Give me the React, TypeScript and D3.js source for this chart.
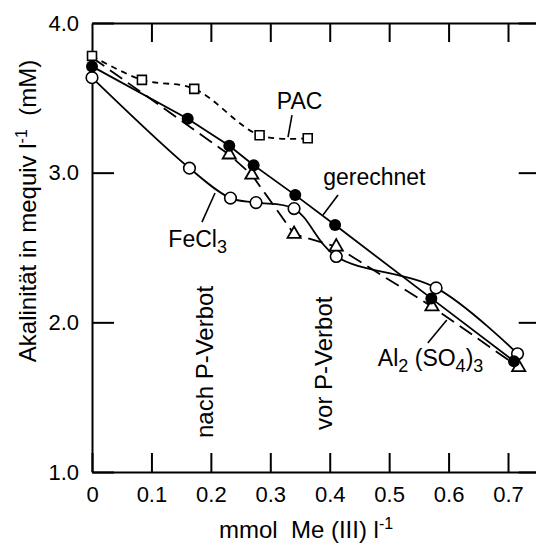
import React, { useEffect, useRef } from "react"
import * as d3 from "d3"

// mmol Me(III) per litre  /  alkalinity in mequiv per litre
const pacX = [0, 0.084, 0.172, 0.282, 0.363]
const pacY = [3.78, 3.62, 3.56, 3.25, 3.23]

const gerX = [0, 0.161, 0.231, 0.272, 0.342, 0.409, 0.571, 0.71]
const gerY = [3.71, 3.36, 3.18, 3.05, 2.85, 2.65, 2.16, 1.74]

const feX = [0, 0.164, 0.233, 0.276, 0.34, 0.411, 0.579, 0.716]
const feY = [3.635, 3.03, 2.83, 2.8, 2.76, 2.44, 2.23, 1.79]

const alX = [0, 0.231, 0.269, 0.34, 0.411, 0.572, 0.718]
const alY = [3.77, 3.12, 2.985, 2.59, 2.505, 2.105, 1.7]

const xTicks = [0, 0.1, 0.2, 0.3, 0.4, 0.5, 0.6, 0.7]
const yTicks = [1, 2, 3, 4]

const font = "'Liberation Sans', Arial, Helvetica, sans-serif"

const pts = (xs: number[], ys: number[]) => xs.map((v, i) => [v, ys[i]] as [number, number])

const App = () => {
  const ref = useRef<SVGSVGElement>(null)

  useEffect(() => {
    drawChart()
  }, [])

  const drawChart = () => {
    const svg = d3.select(ref.current)
    svg.selectAll("*").remove()

    const x = d3.scaleLinear().domain([0, 0.755]).range([92, 540.7])
    const y = d3.scaleLinear().domain([1, 4]).range([472, 23])

    const styleAxis = (g: any) => {
      g.selectAll("path, line").attr("stroke", "#000").attr("stroke-width", 2)
      g.selectAll("text").attr("font-size", 22).attr("font-family", font).attr("fill", "#000")
    }

    svg.append("g")
      .attr("transform", `translate(0,${y(1)})`)
      .call(d3.axisBottom(x).tickValues(xTicks).tickSize(-19).tickSizeOuter(0).tickPadding(14)
        .tickFormat((d: any) => (d === 0 ? "0" : d3.format(".1f")(d))))
      .call(styleAxis)
    svg.append("g")
      .attr("transform", `translate(0,${y(4)})`)
      .call(d3.axisTop(x).tickValues(xTicks.slice(1)).tickSize(-19).tickSizeOuter(0).tickFormat(() => ""))
      .call(styleAxis)
    svg.append("g")
      .attr("transform", `translate(${x(0)},0)`)
      .call(d3.axisLeft(y).tickValues(yTicks).tickSize(-22).tickSizeOuter(0).tickPadding(13)
        .tickFormat(d3.format(".1f") as any))
      .call(styleAxis)
    svg.append("g")
      .attr("transform", `translate(${x.range()[1]},0)`)
      .call(d3.axisRight(y).tickValues(yTicks).tickSize(-22).tickSizeOuter(0).tickFormat(() => ""))
      .call(styleAxis)

    const straight = d3.line().x(d => x(d[0])).y(d => y(d[1]))
    const curvy = d3.line().x(d => x(d[0])).y(d => y(d[1])).curve(d3.curveCatmullRom.alpha(0.5))

    const lines = [
      { p: pts(alX, alY), gen: straight, dash: "15,7" },
      { p: pts(pacX, pacY), gen: curvy, dash: "6,5" },
      { p: pts(feX, feY), gen: curvy, dash: null },
      { p: pts(gerX, gerY), gen: straight, dash: null },
    ]
    lines.forEach(l => {
      svg.append("path")
        .attr("d", l.gen(l.p))
        .attr("fill", "none")
        .attr("stroke", "#000")
        .attr("stroke-width", 1.8)
        .attr("stroke-dasharray", l.dash)
    })

    // first Al2(SO4)3 value sits under the other markers at x = 0
    svg.append("g").selectAll("path")
      .data(pts(alX, alY).slice(1))
      .join("path")
      .attr("transform", d => `translate(${x(d[0])},${y(d[1])})`)
      .attr("d", d3.symbol(d3.symbolTriangle, 75)())
      .attr("fill", "#fff").attr("stroke", "#000").attr("stroke-width", 1.8)

    svg.append("g").selectAll("path")
      .data(pts(pacX, pacY))
      .join("path")
      .attr("transform", d => `translate(${x(d[0])},${y(d[1])})`)
      .attr("d", d3.symbol(d3.symbolSquare, 80)())
      .attr("fill", "#fff").attr("stroke", "#000").attr("stroke-width", 1.6)

    svg.append("g").selectAll("circle")
      .data(pts(feX, feY))
      .join("circle")
      .attr("cx", d => x(d[0])).attr("cy", d => y(d[1])).attr("r", 5.8)
      .attr("fill", "#fff").attr("stroke", "#000").attr("stroke-width", 1.6)

    svg.append("g").selectAll("circle")
      .data(pts(gerX, gerY))
      .join("circle")
      .attr("cx", d => x(d[0])).attr("cy", d => y(d[1])).attr("r", 6)
      .attr("fill", "#000")

    // leader lines from labels to curves
    const leaders = [
      [[0.3365, 3.385], [0.3298, 3.238]],
      [[0.414, 2.851], [0.3887, 2.717]],
      [[0.207, 2.864], [0.185, 2.67]],
      [[0.597, 2.016], [0.565, 1.862]],
    ]
    leaders.forEach(s => {
      svg.append("line")
        .attr("x1", x(s[0][0])).attr("y1", y(s[0][1]))
        .attr("x2", x(s[1][0])).attr("y2", y(s[1][1]))
        .attr("stroke", "#000").attr("stroke-width", 1.6)
    })

    const label = (tx: number, ty: number, anchor: string, size: number, rotate = false) => {
      const t = svg.append("text")
        .attr("font-family", font).attr("font-size", size).attr("fill", "#000")
        .attr("text-anchor", anchor)
        .attr("transform", `translate(${tx},${ty})${rotate ? " rotate(-90)" : ""}`)
      return t
    }

    label(x(0.311), y(3.425), "start", 23).text("PAC")
    label(x(0.389), y(2.918), "start", 23).text("gerechnet")

    const fe = label(x(0.227), y(2.503), "end", 23)
    fe.append("tspan").text("FeCl")
    fe.append("tspan").attr("font-size", 18).attr("dy", 6).text("3")

    const al = label(x(0.481), y(1.708), "start", 23)
    al.append("tspan").text("Al")
    al.append("tspan").attr("font-size", 18).attr("dy", 6).text("2")
    al.append("tspan").attr("dy", -6).text("\u00A0(SO")
    al.append("tspan").attr("font-size", 18).attr("dy", 6).text("4")
    al.append("tspan").attr("dy", -6).text(")")
    al.append("tspan").attr("font-size", 18).attr("dy", 6).text("3")

    label(x(0.2036), y(1.227), "start", 24, true).text("nach P-Verbot")
    label(x(0.404), y(1.281), "start", 24, true).text("vor P-Verbot")

    const yt = label(36, 211, "middle", 24, true)
    yt.append("tspan").text("Akalinität in mequiv l")
    yt.append("tspan").attr("font-size", 16).attr("dy", -9).text("-1")
    yt.append("tspan").attr("dy", 9).text("\u00A0\u00A0(mM)")

    const xt = label(306, 538, "middle", 24)
    xt.append("tspan").text("mmol\u00A0\u00A0Me (III) l")
    xt.append("tspan").attr("font-size", 16).attr("dy", -9).text("-1")
  }

  return (
    <svg
      ref={ref}
      width={536}
      height={548}
      style={{ position: "absolute", left: 0, top: 0, background: "#fff" }}
    />
  )
}

export default App
